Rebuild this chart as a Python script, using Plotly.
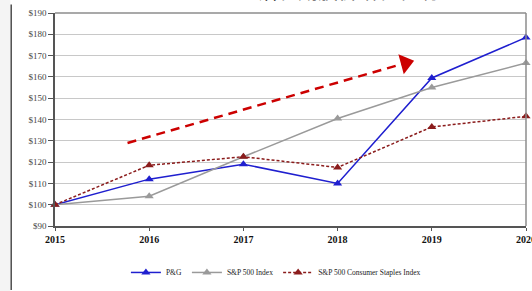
import plotly.graph_objects as go

years = [2015, 2016, 2017, 2018, 2019, 2020]
pg = [100, 112, 119, 110, 159.5, 178.5]
sp500 = [100, 104, 122.5, 140.5, 155, 166.5]
staples = [100, 118.5, 122.5, 117.5, 136.5, 141.5]
y_ticks = list(range(90, 200, 10))
y_tick_labels = ["$%d" % v for v in y_ticks]
trend_x = [2015.77, 2018.72]
trend_y = [129, 166.5]
title_text = "宝洁长期股价增长表现"

serif = "Liberation Serif, Times New Roman, serif"
fig = go.Figure()

fig.add_trace(go.Scatter(x=years, y=pg, name="P&G", mode="lines+markers", cliponaxis=False,
                         line=dict(color="#1f1fcf", width=1.5),
                         marker=dict(symbol="triangle-up", size=8, color="#1f1fcf")))
fig.add_trace(go.Scatter(x=years, y=sp500, name="S&P 500 Index", mode="lines+markers", cliponaxis=False,
                         line=dict(color="#9a9a9a", width=1.5),
                         marker=dict(symbol="triangle-up", size=8, color="#9a9a9a")))
fig.add_trace(go.Scatter(x=years, y=staples, name="S&P 500 Consumer Staples Index", mode="lines+markers",
                         cliponaxis=False,
                         line=dict(color="#8b1c1c", width=1.5, dash="3px,2px"),
                         marker=dict(symbol="triangle-up", size=8, color="#8b1c1c")))
# trend arrow
fig.add_trace(go.Scatter(x=trend_x, y=trend_y, mode="lines", showlegend=False, hoverinfo="skip",
                         line=dict(color="#cc0000", width=2.5, dash="9px,6px")))
fig.add_trace(go.Scatter(x=trend_x[1:], y=trend_y[1:], mode="markers", showlegend=False, hoverinfo="skip",
                         marker=dict(symbol="triangle-right", size=18, color="#cc0000", angle=-15)))

shapes = [
    dict(type="rect", xref="paper", yref="paper", x0=-0.095, x1=-0.0913, y0=-0.3, y1=1.04,
         fillcolor="#555555", line=dict(width=0), layer="below"),
    dict(type="rect", xref="paper", yref="paper", x0=-0.2, x1=-0.095, y0=-0.35, y1=1.1,
         fillcolor="#f4f4f4", line=dict(width=0), layer="below"),
    dict(type="line", xref="paper", yref="paper", x0=0, x1=1, y0=1, y1=1,
         line=dict(color="#8c8c8c", width=1.5)),
    dict(type="line", xref="paper", yref="paper", x0=1, x1=1, y0=0, y1=1,
         line=dict(color="#8c8c8c", width=1.5)),
]

fig.update_layout(
    width=532, height=291,
    margin=dict(l=55, r=6, t=13, b=65, autoexpand=False),
    paper_bgcolor="white", plot_bgcolor="white",
    showlegend=True,
    legend=dict(orientation="h", x=0.469, xanchor="center", y=-0.15, yanchor="top",
                font=dict(family=serif, size=7.5, color="#222"),
                tracegroupgap=0),
    shapes=shapes,
    annotations=[dict(text=title_text, xref="paper", yref="paper", x=0.6, y=1.0,
                      yshift=6, showarrow=False, yanchor="bottom",
                      font=dict(family="Noto Sans CJK SC", size=20, color="#111"))],
    xaxis=dict(range=[2015, 2020], tickvals=years, ticktext=[str(y) for y in years],
               automargin=False, ticklabeloverflow="allow",
               showgrid=False, zeroline=False, showline=True, linecolor="#555", linewidth=1.5,
               ticks="outside", ticklen=3, tickcolor="#555",
               tickfont=dict(family=serif, size=10, color="#111", weight="bold")),
    yaxis=dict(range=[90, 190], tickvals=y_ticks, ticktext=y_tick_labels,
               automargin=False,
               showgrid=True, gridcolor="#c8c8c8", gridwidth=1.2, zeroline=False,
               showline=True, linecolor="#555", linewidth=1.5,
               ticks="outside", ticklen=5, tickcolor="#555",
               tickfont=dict(family=serif, size=9, color="#444")),
)
fig.write_html("out.html", config={"displayModeBar": False},
               post_script="document.body.style.margin='0';document.body.style.overflow='hidden';")
